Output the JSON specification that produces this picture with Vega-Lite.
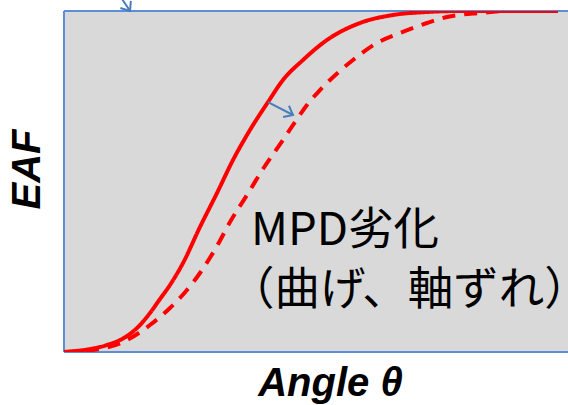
{
  "$schema": "https://vega.github.io/schema/vega-lite/v6.json",
  "width": 504,
  "height": 341,
  "autosize": {"type": "none"},
  "padding": {"left": 64, "top": 11, "right": 0, "bottom": 53},
  "background": "white",
  "config": {"view": {"fill": "#d9d9d9", "stroke": null}},
  "datasets": {
    "curves": [
      {"series": "before", "angle": 0, "eaf": 0},
      {"series": "before", "angle": 0.516, "eaf": 0.0088},
      {"series": "before", "angle": 0.853, "eaf": 0.0205},
      {"series": "before", "angle": 1.25, "eaf": 0.0469},
      {"series": "before", "angle": 1.508, "eaf": 0.0792},
      {"series": "before", "angle": 1.706, "eaf": 0.1144},
      {"series": "before", "angle": 1.905, "eaf": 0.1554},
      {"series": "before", "angle": 2.103, "eaf": 0.1965},
      {"series": "before", "angle": 2.361, "eaf": 0.261},
      {"series": "before", "angle": 2.698, "eaf": 0.3666},
      {"series": "before", "angle": 3.036, "eaf": 0.4663},
      {"series": "before", "angle": 3.353, "eaf": 0.563},
      {"series": "before", "angle": 3.69, "eaf": 0.651},
      {"series": "before", "angle": 4.048, "eaf": 0.7331},
      {"series": "before", "angle": 4.345, "eaf": 0.7977},
      {"series": "before", "angle": 4.742, "eaf": 0.8563},
      {"series": "before", "angle": 5.218, "eaf": 0.915},
      {"series": "before", "angle": 5.873, "eaf": 0.9648},
      {"series": "before", "angle": 6.528, "eaf": 0.9883},
      {"series": "before", "angle": 7.202, "eaf": 0.9971},
      {"series": "before", "angle": 7.857, "eaf": 1.0},
      {"series": "before", "angle": 9.802, "eaf": 1.0},
      {"series": "after", "angle": 0, "eaf": 0},
      {"series": "after", "angle": 0.575, "eaf": 0.0059},
      {"series": "after", "angle": 1.171, "eaf": 0.0293},
      {"series": "after", "angle": 1.706, "eaf": 0.0792},
      {"series": "after", "angle": 2.103, "eaf": 0.129},
      {"series": "after", "angle": 2.44, "eaf": 0.1818},
      {"series": "after", "angle": 2.698, "eaf": 0.2317},
      {"series": "after", "angle": 3.036, "eaf": 0.3109},
      {"series": "after", "angle": 3.294, "eaf": 0.3812},
      {"series": "after", "angle": 3.631, "eaf": 0.4604},
      {"series": "after", "angle": 3.948, "eaf": 0.5367},
      {"series": "after", "angle": 4.345, "eaf": 0.6217},
      {"series": "after", "angle": 4.623, "eaf": 0.6833},
      {"series": "after", "angle": 4.821, "eaf": 0.7243},
      {"series": "after", "angle": 5.079, "eaf": 0.7683},
      {"series": "after", "angle": 5.278, "eaf": 0.7977},
      {"series": "after", "angle": 5.734, "eaf": 0.8563},
      {"series": "after", "angle": 6.21, "eaf": 0.9062},
      {"series": "after", "angle": 6.667, "eaf": 0.9355},
      {"series": "after", "angle": 7.202, "eaf": 0.9648},
      {"series": "after", "angle": 7.599, "eaf": 0.9824},
      {"series": "after", "angle": 8.254, "eaf": 0.9941},
      {"series": "after", "angle": 8.849, "eaf": 1.0},
      {"series": "after", "angle": 9.802, "eaf": 1.0}
    ],
    "arrows": [
      {"id": "a", "x1": 4.048, "y1": 0.733, "x2": 4.544, "y2": 0.695},
      {"id": "b", "x1": 1.032, "y1": 1.062, "x2": 1.31, "y2": 1.0}
    ],
    "labels": [
      {"x": 3.71, "y": 0.355, "text": "MPD劣化"},
      {"x": 3.274, "y": 0.178, "text": "（曲げ、軸ずれ）"}
    ]
  },
  "layer": [
    {
      "data": {"values": [{}]},
      "mark": {"type": "rule", "color": "#5b8ed6", "strokeWidth": 2},
      "encoding": {"x": {"datum": 0, "type": "quantitative", "scale": {"domain": [0, 10], "nice": false, "zero": false}}}
    },
    {
      "data": {"values": [{}]},
      "mark": {"type": "rule", "color": "#5b8ed6", "strokeWidth": 2},
      "encoding": {"y": {"datum": 0, "type": "quantitative", "scale": {"domain": [0, 1], "nice": false, "zero": false}}}
    },
    {
      "data": {"values": [{}]},
      "mark": {"type": "rule", "color": "#5b8ed6", "strokeWidth": 2},
      "encoding": {"y": {"datum": 1, "type": "quantitative"}}
    },
    {
      "data": {"name": "curves"},
      "mark": {"type": "line", "color": "#ff0000", "strokeWidth": 4, "interpolate": "monotone", "clip": true},
      "encoding": {
        "x": {"field": "angle", "type": "quantitative", "scale": {"domain": [0, 10], "nice": false, "zero": false},
          "axis": {"title": "Angle θ", "domain": false, "ticks": false, "labels": false, "grid": false,
            "titleFont": "Liberation Sans", "titleFontSize": 40, "titleFontWeight": "bold", "titleFontStyle": "italic",
            "titleColor": "black", "titlePadding": 11, "titleX": 266}},
        "y": {"field": "eaf", "type": "quantitative", "scale": {"domain": [0, 1], "nice": false, "zero": false},
          "axis": {"title": "EAF", "domain": false, "ticks": false, "labels": false, "grid": false,
            "titleFont": "Liberation Sans", "titleFontSize": 40, "titleFontWeight": "bold", "titleFontStyle": "italic",
            "titleColor": "black", "titlePadding": 17, "titleY": 158}},
        "strokeDash": {"field": "series", "type": "nominal", "scale": {"domain": ["before", "after"], "range": [[1, 0], [13, 9]]}, "legend": null}
      }
    },
    {
      "data": {"name": "arrows"},
      "mark": {"type": "rule", "color": "#4a7ebb", "strokeWidth": 2},
      "encoding": {
        "x": {"field": "x1", "type": "quantitative"},
        "y": {"field": "y1", "type": "quantitative"},
        "x2": {"field": "x2"},
        "y2": {"field": "y2"}
      }
    },
    {
      "data": {"name": "arrows"},
      "transform": [{"filter": "datum.id === 'a'"}],
      "mark": {"type": "point", "shape": "M-1,-0.8L0,0L-1,0.8", "filled": false, "stroke": "#4a7ebb", "strokeWidth": 2, "size": 250, "angle": 27.5, "opacity": 1},
      "encoding": {
        "x": {"field": "x2", "type": "quantitative"},
        "y": {"field": "y2", "type": "quantitative"}
      }
    },
    {
      "data": {"name": "arrows"},
      "transform": [{"filter": "datum.id === 'b'"}],
      "mark": {"type": "point", "shape": "M-1,-0.8L0,0L-1,0.8", "filled": false, "stroke": "#4a7ebb", "strokeWidth": 2, "size": 250, "angle": 56, "opacity": 1},
      "encoding": {
        "x": {"field": "x2", "type": "quantitative"},
        "y": {"field": "y2", "type": "quantitative"}
      }
    },
    {
      "data": {"name": "labels"},
      "mark": {"type": "text", "font": "Noto Sans CJK JP", "fontSize": 45.5, "align": "left", "baseline": "middle", "color": "black"},
      "encoding": {
        "x": {"field": "x", "type": "quantitative"},
        "y": {"field": "y", "type": "quantitative"},
        "text": {"field": "text"}
      }
    }
  ]
}
